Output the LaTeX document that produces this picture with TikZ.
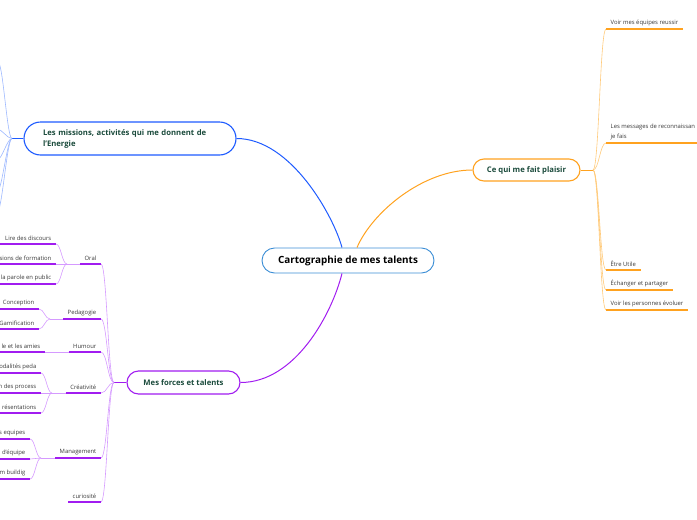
\documentclass[tikz,border=0pt]{standalone}
\usepackage{fontspec}
\setmainfont{Open Sans}
\usepackage{xcolor}
\usepackage{tikz}

\definecolor{rootblue}{HTML}{3D8FD6}
\definecolor{missionblue}{HTML}{1E5BFF}
\definecolor{missionlight}{HTML}{9DB8FF}
\definecolor{plaisirorange}{HTML}{FFA21F}
\definecolor{plaisirlight}{HTML}{FFCA7A}
\definecolor{forcepurple}{HTML}{A11CF0}
\definecolor{forcelight}{HTML}{D59AFF}
\definecolor{topictext}{HTML}{1B4B3C}
\definecolor{leaftext}{HTML}{3A3A3A}

\begin{document}
\begin{tikzpicture}[x=1pt, y=-1pt,
  root/.style={rectangle, rounded corners=12.5pt, draw=rootblue, line width=0.9pt, fill=white, minimum width=172pt, minimum height=25pt, font=\fontsize{9.9}{11}\selectfont\bfseries},
  topic/.style={rectangle, draw=#1, line width=1.1pt, fill=white, text=topictext, font=\fontsize{7.7}{11}\selectfont\bfseries},
  leaf/.style={inner xsep=4.5pt, inner ysep=3pt, text=leaftext, font=\fontsize{5.9}{9.5}\selectfont},
  lcurve/.style={to path={.. controls +(-#1,0) and +(#1,0) .. (\tikztotarget)}},
  rcurve/.style={to path={.. controls +(#1,0) and +(-#1,0) .. (\tikztotarget)}},
  every edge/.style={draw, line width=0.6pt}
]
  \useasboundingbox (0,0) rectangle (697,520);
  \clip (0,0) rectangle (697,520);
  \coordinate (leftedge) at (0,0);

  \node[root] (root) at (348,260.5) {Cartographie de mes talents};
  \node[topic=missionblue, text width=174pt, align=left, inner xsep=19pt, minimum height=33pt, rounded corners=16.5pt] (missions) at (130,138.5) {Les missions, activités qui me donnent de\\l'Energie};
  \node[topic=plaisirorange, minimum width=107pt, minimum height=22pt, rounded corners=11pt] (plaisir) at (526.5,170) {Ce qui me fait plaisir};
  \node[topic=forcepurple, minimum width=113pt, minimum height=23pt, rounded corners=11.5pt] (forces) at (183.5,382.5) {Mes forces et talents};

  % Main connectors
  \draw[missionblue, line width=1pt] ([xshift=-6pt]root.north) .. controls +(-8,-30) and +(55,0) .. (missions.east);
  \draw[plaisirorange, line width=1pt] ([xshift=9pt]root.north) .. controls +(15,-35) and +(-50,0) .. (plaisir.west);
  \draw[forcepurple, line width=1pt] ([xshift=-6pt]root.south) .. controls +(-10,40) and +(55,0) .. (forces.east);

  % Junctions
  \coordinate (mj) at (12,138.5);
  \coordinate (pj) at (593,170);
  \coordinate (fj) at (114,382.5);
  \coordinate (oj) at (67,264);
  \coordinate (dj) at (50,319);
  \coordinate (cj) at (52,393);
  \coordinate (gj) at (41,458);

  % Missions: children outside the picture
  \coordinate (m1) at (-2,62);
  \coordinate (m2) at (-3,129);
  \coordinate (m3) at (-3,160);
  \coordinate (m4) at (-3,192);
  \coordinate (m5) at (-3,213);
  \draw[missionblue, line width=1pt] (missions.west) -- (mj);
  \path[missionlight]
    (mj) edge[lcurve=5] (m1) edge[lcurve=5] (m2) edge[lcurve=5] (m3)
         edge[lcurve=5] (m4) edge[lcurve=5] (m5);

  % Ce qui me fait plaisir
  \node[leaf, anchor=south west] (reussir) at (606,29) {Voir mes équipes reussir};
  \node[leaf, anchor=south west, align=left] (messages) at (606,143) {Les messages de reconnaissan\\je fais};
  \node[leaf, anchor=south west] (utile) at (606,270) {Être Utile};
  \node[leaf, anchor=south west] (echanger) at (606,290) {Échanger et partager};
  \node[leaf, anchor=south west] (evoluer) at (606,310) {Voir les personnes évoluer};

  \draw[plaisirorange, line width=1pt] (plaisir.east) -- (pj);
  \path[plaisirlight]
    (pj) edge[rcurve=6] (reussir.south west) edge[rcurve=6] (messages.south west)
         edge[rcurve=6] (utile.south west) edge[rcurve=6] (echanger.south west)
         edge[rcurve=6] (evoluer.south west);
  \path[plaisirorange, every edge/.append style={line width=1.1pt}]
    (reussir.south west) edge (reussir.south east)
    (messages.south west) edge (messages.south east)
    (utile.south west) edge (utile.south east)
    (echanger.south west) edge (echanger.south east)
    (evoluer.south west) edge (evoluer.south east);

  % Mes forces et talents
  \node[leaf, anchor=south east] (oral) at (101,264) {Oral};
  \node[leaf, anchor=south east] (peda) at (101,319) {Pedagogie};
  \node[leaf, anchor=south east] (humour) at (101,352) {Humour};
  \node[leaf, anchor=south east] (crea) at (101,393) {Créativité};
  \node[leaf, anchor=south east] (mgmt) at (101,458) {Management};
  \node[leaf, anchor=south east] (curio) at (101,502) {curiosité};

  \draw[forcepurple, line width=1pt] (forces.west) -- (fj);
  \path[forcelight]
    (fj) edge[lcurve=6] (oral.south east) edge[lcurve=6] (peda.south east)
         edge[lcurve=6] (humour.south east) edge[lcurve=6] (crea.south east)
         edge[lcurve=6] (mgmt.south east) edge[lcurve=6] (curio.south east);

  % Sub-items (cut by the left border)
  \node[leaf, anchor=south east] (lire) at (56,244) {Lire des discours};
  \node[leaf, anchor=south east] (sessions) at (56,264) {sions de formation};
  \node[leaf, anchor=south east] (parole) at (56,284) {la parole en public};
  \node[leaf, anchor=south east] (concep) at (39,309) {Conception};
  \node[leaf, anchor=south east] (gamif) at (39,329) {Gamification};
  \node[leaf, anchor=south east] (amies) at (45,352) {le et les amies};
  \node[leaf, anchor=south east] (modal) at (41,373) {odalités peda};
  \node[leaf, anchor=south east] (process) at (41,393) {n des process};
  \node[leaf, anchor=south east] (present) at (41,413) {résentations};
  \node[leaf, anchor=south east] (equipes) at (30,439) {s equipes};
  \node[leaf, anchor=south east] (dequipe) at (30,459) {d'équipe};
  \node[leaf, anchor=south east] (buildig) at (30,479) {m buildig};

  \path[forcelight]
    (oral.south west) edge (oj) (oj) edge[lcurve=5] (lire.south east)
      edge[lcurve=5] (sessions.south east) edge[lcurve=5] (parole.south east)
    (peda.south west) edge (dj) (dj) edge[lcurve=5] (concep.south east)
      edge[lcurve=5] (gamif.south east)
    (humour.south west) edge (amies.south east)
    (crea.south west) edge (cj) (cj) edge[lcurve=5] (modal.south east)
      edge[lcurve=5] (process.south east) edge[lcurve=5] (present.south east)
    (mgmt.south west) edge (gj) (gj) edge[lcurve=5] (equipes.south east)
      edge[lcurve=5] (dequipe.south east) edge[lcurve=5] (buildig.south east);

  % Purple underlines
  \path[forcepurple, every edge/.append style={line width=1.1pt}]
    (oral.south west) edge (oral.south east)
    (peda.south west) edge (peda.south east)
    (humour.south west) edge (humour.south east)
    (crea.south west) edge (crea.south east)
    (mgmt.south west) edge (mgmt.south east)
    (curio.south west) edge (curio.south east)
    (lire.south east) edge (lire.south east -| leftedge)
    (sessions.south east) edge (sessions.south east -| leftedge)
    (parole.south east) edge (parole.south east -| leftedge)
    (concep.south east) edge (concep.south east -| leftedge)
    (gamif.south east) edge (gamif.south east -| leftedge)
    (amies.south east) edge (amies.south east -| leftedge)
    (modal.south east) edge (modal.south east -| leftedge)
    (process.south east) edge (process.south east -| leftedge)
    (present.south east) edge (present.south east -| leftedge)
    (equipes.south east) edge (equipes.south east -| leftedge)
    (dequipe.south east) edge (dequipe.south east -| leftedge)
    (buildig.south east) edge (buildig.south east -| leftedge);
\end{tikzpicture}
\end{document}
